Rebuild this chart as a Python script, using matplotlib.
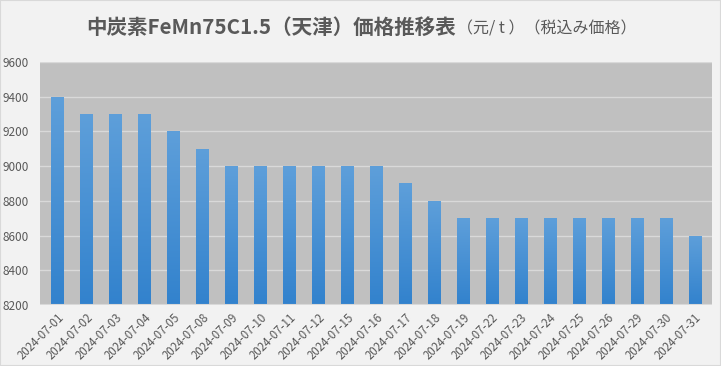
import matplotlib
matplotlib.use("Agg")
import matplotlib.pyplot as plt
import numpy as np
from matplotlib.colors import LinearSegmentedColormap

plt.rcParams['font.family'] = ['Noto Sans CJK JP', 'DejaVu Sans']

dates = ["2024-07-01", "2024-07-02", "2024-07-03", "2024-07-04", "2024-07-05",
         "2024-07-08", "2024-07-09", "2024-07-10", "2024-07-11", "2024-07-12",
         "2024-07-15", "2024-07-16", "2024-07-17", "2024-07-18", "2024-07-19",
         "2024-07-22", "2024-07-23", "2024-07-24", "2024-07-25", "2024-07-26",
         "2024-07-29", "2024-07-30", "2024-07-31"]
prices = [9400, 9300, 9300, 9300, 9200, 9100, 9000, 9000, 9000, 9000, 9000, 9000,
          8900, 8800, 8700, 8700, 8700, 8700, 8700, 8700, 8700, 8700, 8600]
yticks = [8200, 8400, 8600, 8800, 9000, 9200, 9400, 9600]

fig = plt.figure(figsize=(7.21, 3.66), dpi=100, facecolor='#f2f2f2')
ax = fig.add_axes([0.0555, 0.1667, 0.932, 0.664])
ax.set_facecolor('#c0c0c0')

x = np.arange(len(dates))
bars = ax.bar(x, prices, width=0.42, bottom=0, color='none', zorder=3)
ymin, ymax = 8200, 9600
cmap = LinearSegmentedColormap.from_list('g', ['#3282cd', '#5e9fda'])
grad = np.linspace(0, 1, 256).reshape(-1, 1)
for b in bars:
    bx, bw, bh = b.get_x(), b.get_width(), b.get_height()
    im = ax.imshow(grad, cmap=cmap, origin='lower', aspect='auto',
                   extent=[bx, bx + bw, ymin, bh], zorder=3)
    im.set_clip_path(b)

ax.set_ylim(ymin, ymax)
ax.set_xlim(-0.6, len(dates) - 0.4)
ax.set_yticks(yticks)
ax.set_yticklabels([str(v) for v in yticks], fontsize=8.5, color='#595959')
ax.set_xticks(x)
ax.set_xticklabels(dates, rotation=45, ha='right', rotation_mode='anchor',
                   fontsize=8.3, color='#595959')
ax.tick_params(axis='y', length=0, pad=8)
ax.tick_params(axis='x', length=0, pad=4)
ax.grid(axis='y', color='#d9d9d9', linewidth=1, zorder=1)
ax.set_axisbelow(True)
for s in ax.spines.values():
    s.set_visible(False)
ax.axhline(ymin, color='#d9d9d9', linewidth=1.5, zorder=4)

fig.text(0.632, 0.925, "中炭素FeMn75C1.5（天津）価格推移表", ha='right', va='center',
         fontsize=14.8, color='#595959', fontweight='bold')
fig.text(0.634, 0.922, "（元/ t ）（税込み価格）", ha='left', va='center',
         fontsize=11.5, color='#595959')

fig.patches.append(plt.Rectangle((0, 0), 1, 1, transform=fig.transFigure,
                                 fill=False, edgecolor='#d9d9d9', linewidth=1.5))
fig.savefig("out.png", dpi=100, facecolor=fig.get_facecolor())
